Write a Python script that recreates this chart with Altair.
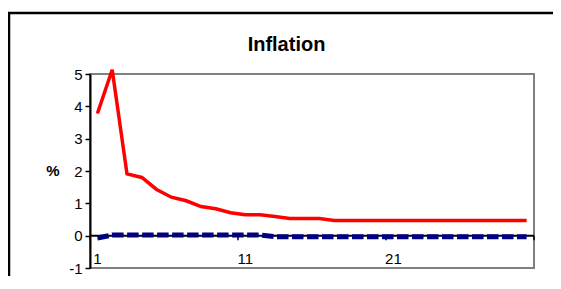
import altair as alt
import pandas as pd

# ---- data ----
periods = list(range(1, 31))
inflation_a = [3.78, 5.13, 1.91, 1.80, 1.43, 1.19, 1.08, 0.90, 0.83, 0.71,
               0.65, 0.65, 0.59, 0.53, 0.53, 0.53, 0.47, 0.47, 0.47, 0.47,
               0.47, 0.47, 0.47, 0.47, 0.47, 0.47, 0.47, 0.47, 0.47, 0.47]
inflation_b = [-0.07, 0.02, 0.02, 0.02, 0.02, 0.02, 0.02, 0.02, 0.02, 0.02,
               0.02, 0.02, -0.03, -0.03, -0.03, -0.03, -0.03, -0.03, -0.03, -0.03,
               -0.03, -0.03, -0.03, -0.03, -0.03, -0.03, -0.03, -0.03, -0.03, -0.03]
y_ticks = [-1, 0, 1, 2, 3, 4, 5]
x_labels = [1, 11, 21]
x_tick_marks = [0.5, 10.5, 20.5, 30.5]
title_text = "Inflation"
y_title = "%"

FONT = "Liberation Sans"
W, H = 444, 194

df_a = pd.DataFrame({"period": periods, "value": inflation_a})
df_b = pd.DataFrame({"period": periods, "value": inflation_b})
df_lab = pd.DataFrame({"pos": x_labels, "label": [str(v) for v in x_labels]})
df_ticks = pd.DataFrame({"pos": x_tick_marks})
one = pd.DataFrame({"k": [0]})

xs = alt.Scale(domain=[0.5, 30.5], nice=False, zero=False)
ys = alt.Scale(domain=[-1, 5], nice=False, zero=False)
y_axis = alt.Axis(values=y_ticks, title=None, grid=False, domainColor="black",
                  domainWidth=2, tickColor="black", tickSize=5, tickWidth=1.5,
                  labelFont=FONT, labelFontSize=15, labelColor="black",
                  labelPadding=3, labelExpr="'' + datum.value")

frame = alt.Chart(one).mark_rect(fillOpacity=0, stroke="black", strokeWidth=2.5, clip=False).encode(
    x=alt.value(-81), y=alt.value(-61), x2=alt.value(900), y2=alt.value(600))

zero = alt.Chart(one).mark_rule(color="black", strokeWidth=2).encode(
    y=alt.Y(datum=0, scale=ys, axis=y_axis), x=alt.value(0), x2=alt.value(W))

ticks = alt.Chart(df_ticks).mark_rule(color="black", strokeWidth=1.5).encode(
    x=alt.X("pos:Q", scale=xs, axis=None),
    y=alt.Y(datum=0, scale=ys, axis=y_axis), y2=alt.Y2(datum=-0.14))

red = alt.Chart(df_a).mark_line(color="#FF0000", strokeWidth=3.5).encode(
    x=alt.X("period:Q", scale=xs, axis=None),
    y=alt.Y("value:Q", scale=ys, axis=y_axis))

blue = alt.Chart(df_b).mark_line(color="#000080", strokeWidth=5, strokeDash=[11.5, 3.5]).encode(
    x=alt.X("period:Q", scale=xs, axis=None),
    y=alt.Y("value:Q", scale=ys, axis=y_axis))

labels = alt.Chart(df_lab).mark_text(font=FONT, fontSize=15, color="black", baseline="middle").encode(
    x=alt.X("pos:Q", scale=xs, axis=None),
    y=alt.Y(datum=-0.72, scale=ys, axis=y_axis), text="label:N")

title = alt.Chart(one).mark_text(text=title_text, font=FONT, fontSize=20, fontWeight="bold",
                                 color="black", baseline="alphabetic", align="center").encode(
    x=alt.value(196.5), y=alt.value(-23.3))

ytitle = alt.Chart(one).mark_text(text=y_title, font=FONT, fontSize=15, fontWeight="bold",
                                  color="black", baseline="middle", align="center").encode(
    x=alt.value(-37), y=alt.Y(datum=2, scale=ys, axis=y_axis))

chart = alt.layer(frame, zero, ticks, red, blue, labels, title, ytitle).properties(
    width=W, height=H, autosize="none",
    padding={"left": 82, "top": 66, "right": 19, "bottom": 8},
    background="white",
).configure_view(stroke="#808080", strokeWidth=2)

chart.save("out.html", embed_options={"renderer": "svg", "actions": False})
